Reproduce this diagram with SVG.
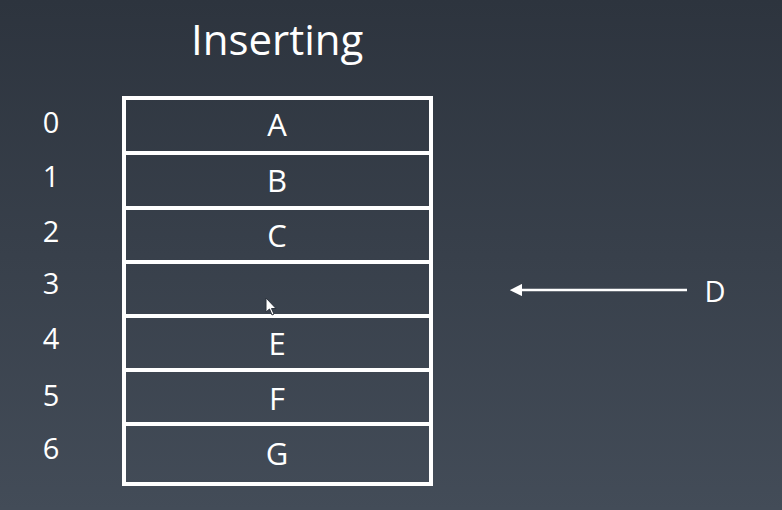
<svg xmlns="http://www.w3.org/2000/svg" width="782" height="510" viewBox="0 0 782 510">
  <defs>
    <linearGradient id="bg" x1="0" y1="0" x2="0" y2="510" gradientUnits="userSpaceOnUse">
      <stop offset="0" stop-color="#2d343e"/>
      <stop offset="1" stop-color="#434c58"/>
    </linearGradient>
    <marker id="arrow" viewBox="0 0 10 10" refX="1" refY="5" markerWidth="5" markerHeight="5" orient="auto-start-reverse" markerUnits="strokeWidth">
      <path d="M0,0 L10,5 L0,10 Z" fill="#ffffff"/>
    </marker>
    <style>
      .cell { fill: url(#bg); stroke: #ffffff; stroke-width: 4; }
      .lbl { font-family: "Open Sans", "Liberation Sans", sans-serif; font-size: 31px; fill: #ffffff; text-anchor: middle; }
      .idx { font-family: "Open Sans", "Liberation Sans", sans-serif; font-size: 29px; fill: #ffffff; text-anchor: middle; }
      .title { font-family: "Open Sans", "Liberation Sans", sans-serif; font-size: 42px; fill: #ffffff; }
    </style>
  </defs>
  <rect x="0" y="0" width="782" height="510" fill="url(#bg)"/>
  <text class="title" x="191" y="55">Inserting</text>

  <g id="indices">
    <text class="idx" x="51" y="133">0</text>
    <text class="idx" x="51" y="187">1</text>
    <text class="idx" x="51" y="242">2</text>
    <text class="idx" x="51" y="294">3</text>
    <text class="idx" x="51" y="349">4</text>
    <text class="idx" x="51" y="406">5</text>
    <text class="idx" x="51" y="459">6</text>
  </g>

  <g id="cell0"><rect class="cell" x="124" y="98" width="307" height="55"/><text class="lbl" x="277" y="136">A</text></g>
  <g id="cell1"><rect class="cell" x="124" y="153" width="307" height="55"/><text class="lbl" x="277" y="192">B</text></g>
  <g id="cell2"><rect class="cell" x="124" y="208" width="307" height="54"/><text class="lbl" x="277" y="247">C</text></g>
  <g id="cell3"><rect class="cell" x="124" y="262" width="307" height="54"/></g>
  <g id="cell4"><rect class="cell" x="124" y="316" width="307" height="54"/><text class="lbl" x="277" y="355">E</text></g>
  <g id="cell5"><rect class="cell" x="124" y="370" width="307" height="54"/><text class="lbl" x="277" y="410">F</text></g>
  <g id="cell6"><rect class="cell" x="124" y="424" width="307" height="60"/><text class="lbl" x="277" y="465">G</text></g>

  <g id="nodeD"><text class="lbl" x="715" y="302" style="font-size:29px">D</text></g>

  <g id="connectors">
    <line x1="687" y1="290" x2="521" y2="290" stroke="#ffffff" stroke-width="2.5" marker-end="url(#arrow)"/>
  </g>

  <g id="cursor">
    <path d="M266,298 L266,312 L269.5,309 L272,315 L274,314 L271.5,308.5 L276,308.5 Z" fill="#ffffff" stroke="#2d343e" stroke-width="1"/>
  </g>
</svg>
